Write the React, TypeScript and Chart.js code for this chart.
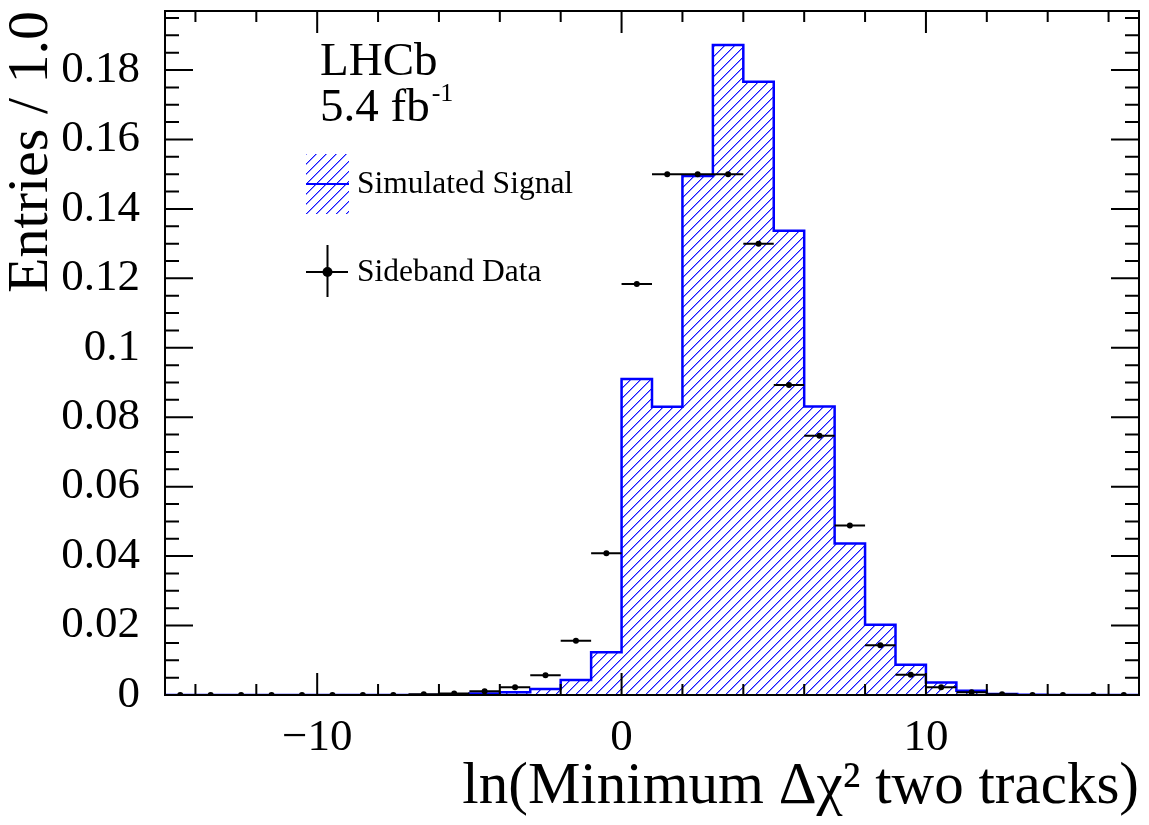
import React, { useEffect, useRef } from 'react';
import { Chart, registerables } from 'chart.js';

Chart.register(...registerables);

// ---------- data ----------
const binLowEdges = [-15, -14, -13, -12, -11, -10, -9, -8, -7, -6, -5, -4, -3, -2, -1, 0, 1, 2, 3, 4, 5, 6, 7, 8, 9, 10, 11, 12, 13, 14, 15, 16];
const binWidth = 1.0;
const signalValues = [0, 0, 0, 0, 0, 0, 0, 0, 0, 0.0001, 0.0004, 0.0008, 0.0017, 0.0043, 0.0123, 0.091, 0.083, 0.1495, 0.1872, 0.1766, 0.1337, 0.0831, 0.0436, 0.0202, 0.0087, 0.0036, 0.0012, 0.0003, 0.0001, 0, 0, 0];
const sidebandCenters = [-14.5, -13.5, -12.5, -11.5, -10.5, -9.5, -8.5, -7.5, -6.5, -5.5, -4.5, -3.5, -2.5, -1.5, -0.5, 0.5, 1.5, 2.5, 3.5, 4.5, 5.5, 6.5, 7.5, 8.5, 9.5, 10.5, 11.5, 12.5, 13.5, 14.5, 15.5, 16.5];
const sidebandValues = [0, 0, 0, 0, 0, 0, 0, 0, 0.0002, 0.0004, 0.0011, 0.0022, 0.0057, 0.0156, 0.0408, 0.1184, 0.150, 0.150, 0.150, 0.130, 0.0893, 0.0747, 0.0488, 0.0143, 0.0058, 0.0022, 0.0008, 0.0002, 0, 0, 0, 0];
const xTickValues = [-10, 0, 10];
const xTickLabels = ['\u221210', '0', '10'];
const yTickValues = [0, 0.02, 0.04, 0.06, 0.08, 0.1, 0.12, 0.14, 0.16, 0.18];
const yTickLabels = ['0', '0.02', '0.04', '0.06', '0.08', '0.1', '0.12', '0.14', '0.16', '0.18'];
const xRange = [-15, 17];
const yRange = [0, 0.197];
const xMinorTickValues = [-14, -12, -10, -8, -6, -4, -2, 0, 2, 4, 6, 8, 10, 12, 14, 16];
const yMinorTickValues = [0, 0.005, 0.01, 0.015, 0.02, 0.025, 0.03, 0.035, 0.04, 0.045, 0.05, 0.055, 0.06, 0.065, 0.07, 0.075, 0.08, 0.085, 0.09, 0.095, 0.1, 0.105, 0.11, 0.115, 0.12, 0.125, 0.13, 0.135, 0.14, 0.145, 0.15, 0.155, 0.16, 0.165, 0.17, 0.175, 0.18, 0.185, 0.19, 0.195];

const xTitle = 'ln(Minimum \u0394\u03c7\u00b2 two tracks)';
const yTitle = 'Entries / 1.0';
const signalLabel = 'Simulated Signal';
const dataLabel = 'Sideband Data';
const expLabel = 'LHCb';
const lumiLabel = '5.4 fb';
const lumiSup = '-1';

const FONT = '"Liberation Serif", "Times New Roman", serif';
const BLUE = '#0000ff';

function makeHatch(): CanvasPattern | string {
  const c = document.createElement('canvas');
  c.width = 10;
  c.height = 10;
  const g = c.getContext('2d');
  if (!g) return 'rgba(0,0,255,0.2)';
  g.clearRect(0, 0, 10, 10);
  g.fillStyle = 'rgba(0,0,255,0.45)';
  for (let i = 0; i < 10; i++) {
    g.fillRect((i + 1) % 10, 9 - i, 1, 1);
  }
  g.fillStyle = 'rgb(20,20,255)';
  for (let i = 0; i < 10; i++) {
    g.fillRect(i, 9 - i, 1, 1);
  }
  const p = g.createPattern(c, 'repeat');
  return p || 'rgba(0,0,255,0.2)';
}

export default function App() {
  const ref = useRef<HTMLCanvasElement | null>(null);

  useEffect(() => {
    const canvas = ref.current;
    if (!canvas) return;
    const hatch = makeHatch();

    const histData = binLowEdges.map((e, i) => ({ x: e, y: signalValues[i] }));
    histData.push({ x: binLowEdges[binLowEdges.length - 1] + binWidth, y: signalValues[signalValues.length - 1] });
    const pointsData = sidebandCenters.map((c, i) => ({ x: c, y: sidebandValues[i] }));

    const errorBars = {
      id: 'errorBars',
      beforeDatasetDraw(chart: any, args: any) {
        if (args.index !== 0) return;
        const { ctx, scales } = chart;
        ctx.save();
        ctx.strokeStyle = '#000';
        ctx.lineWidth = 2;
        ctx.beginPath();
        sidebandCenters.forEach((c, i) => {
          const y = scales.y.getPixelForValue(sidebandValues[i]);
          ctx.moveTo(scales.x.getPixelForValue(c - binWidth / 2), y);
          ctx.lineTo(scales.x.getPixelForValue(c + binWidth / 2), y);
        });
        ctx.stroke();
        ctx.restore();
      },
    };

    const frame = {
      id: 'frame',
      afterDatasetsDraw(chart: any) {
        const { ctx, chartArea: a, scales } = chart;
        ctx.save();
        ctx.strokeStyle = '#000';
        ctx.lineWidth = 2;
        ctx.beginPath();
        xMinorTickValues.forEach((v) => {
          const x = scales.x.getPixelForValue(v);
          const len = v % 10 === 0 ? 22 : 11;
          ctx.moveTo(x, a.bottom);
          ctx.lineTo(x, a.bottom - len);
          ctx.moveTo(x, a.top);
          ctx.lineTo(x, a.top + len);
        });
        yMinorTickValues.forEach((v) => {
          const y = scales.y.getPixelForValue(v);
          const major = Math.abs(Math.round(v * 1000) % 20) === 0;
          const len = major ? 28 : 14;
          ctx.moveTo(a.left, y);
          ctx.lineTo(a.left + len, y);
          ctx.moveTo(a.right, y);
          ctx.lineTo(a.right - len, y);
        });
        ctx.stroke();
        ctx.strokeRect(a.left, a.top, a.right - a.left, a.bottom - a.top);
        ctx.restore();
      },
      afterDraw(chart: any) {
        const { ctx } = chart;
        ctx.save();
        ctx.fillStyle = '#000';
        ctx.textAlign = 'left';
        ctx.textBaseline = 'alphabetic';
        ctx.font = `47px ${FONT}`;
        ctx.fillText(expLabel, 320, 75);
        ctx.fillText(lumiLabel, 320, 121);
        const w = ctx.measureText(lumiLabel).width;
        ctx.font = `26px ${FONT}`;
        ctx.fillText(lumiSup, 320 + w + 2, 101);

        // legend: simulated signal
        ctx.fillStyle = hatch as any;
        ctx.fillRect(306, 154, 43, 60);
        ctx.strokeStyle = BLUE;
        ctx.lineWidth = 2;
        ctx.beginPath();
        ctx.moveTo(306, 184);
        ctx.lineTo(349, 184);
        ctx.stroke();
        ctx.fillStyle = '#000';
        ctx.font = `31.5px ${FONT}`;
        ctx.fillText(signalLabel, 357, 193);

        // legend: sideband data
        ctx.strokeStyle = '#000';
        ctx.beginPath();
        ctx.moveTo(306, 272);
        ctx.lineTo(348, 272);
        ctx.moveTo(327.5, 245);
        ctx.lineTo(327.5, 297);
        ctx.stroke();
        ctx.beginPath();
        ctx.arc(327.5, 272, 5, 0, Math.PI * 2);
        ctx.fill();
        ctx.fillText(dataLabel, 357, 281);
        ctx.restore();
      },
    };

    const chart = new Chart(canvas, {
      type: 'line',
      data: {
        datasets: [
          {
            type: 'scatter',
            label: dataLabel,
            data: pointsData,
            showLine: false,
            pointRadius: 3,
            pointBackgroundColor: '#000',
            pointBorderColor: '#000',
            pointBorderWidth: 0,
          } as any,
          {
            type: 'line',
            label: signalLabel,
            data: histData,
            stepped: 'before',
            borderColor: BLUE,
            borderWidth: 2.5,
            backgroundColor: hatch as any,
            fill: 'origin',
            pointRadius: 0,
            tension: 0,
          } as any,
        ],
      },
      options: {
        responsive: false,
        animation: false,
        devicePixelRatio: 1,
        layout: { padding: { top: 11, right: 10, left: 0, bottom: 0 } },
        plugins: {
          legend: { display: false },
          tooltip: { enabled: false },
        },
        scales: {
          x: {
            type: 'linear',
            min: xRange[0],
            max: xRange[1],
            grid: { display: false },
            border: { display: false },
            afterBuildTicks: (s: any) => {
              s.ticks = xTickValues.map((v) => ({ value: v }));
            },
            afterFit: (s: any) => {
              s.height = 130;
              s.paddingLeft = 0;
              s.paddingRight = 0;
              s.paddingTop = 0;
              s.paddingBottom = 0;
            },
            ticks: {
              autoSkip: false,
              maxRotation: 0,
              padding: 8,
              color: '#000',
              font: { family: FONT, size: 45 },
              callback: (v: any) => {
                const i = xTickValues.indexOf(Number(v));
                return i >= 0 ? xTickLabels[i] : '';
              },
            },
            title: {
              display: true,
              text: xTitle,
              align: 'end',
              color: '#000',
              font: { family: FONT, size: 59, lineHeight: 1.1 },
              padding: { top: 0, bottom: 5 },
            },
          },
          y: {
            type: 'linear',
            min: yRange[0],
            max: yRange[1],
            grid: { display: false },
            border: { display: false },
            afterBuildTicks: (s: any) => {
              s.ticks = yTickValues.map((v) => ({ value: v }));
            },
            afterFit: (s: any) => {
              s.width = 165;
              s.paddingLeft = 0;
              s.paddingRight = 0;
              s.paddingTop = 0;
              s.paddingBottom = 0;
            },
            ticks: {
              autoSkip: false,
              padding: 17,
              color: '#000',
              font: { family: FONT, size: 45 },
              callback: (v: any) => {
                const i = yTickValues.findIndex((t) => Math.abs(t - Number(v)) < 1e-9);
                return i >= 0 ? yTickLabels[i] : '';
              },
            },
            title: {
              display: true,
              text: yTitle,
              align: 'end',
              color: '#000',
              font: { family: FONT, size: 58, lineHeight: 1.1 },
              padding: { top: 0, bottom: 0 },
            },
          },
        },
      },
      plugins: [errorBars, frame],
    });

    return () => chart.destroy();
  }, []);

  return (
    <div style={{ position: 'fixed', left: 0, top: 0, width: 1149, height: 825, background: '#fff' }}>
      <canvas ref={ref} width={1149} height={825} style={{ display: 'block', width: 1149, height: 825 }} />
    </div>
  );
}
